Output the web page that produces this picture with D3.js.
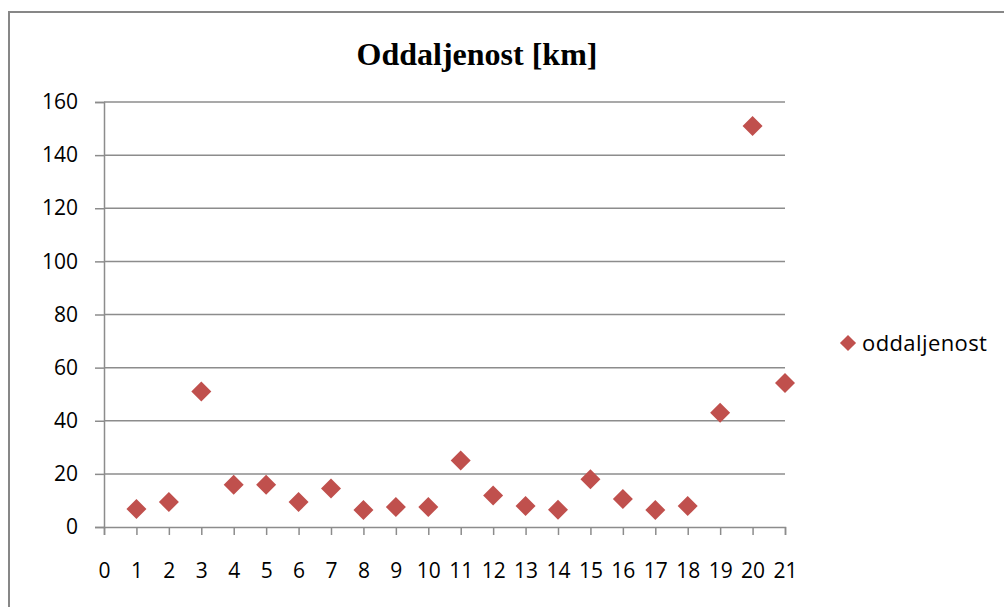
<!DOCTYPE html>
<html>
<head>
<meta charset="utf-8">
<script src="https://cdn.jsdelivr.net/npm/d3@7"></script>
<style>
  html, body { margin: 0; padding: 0; background: #fff; }
  svg { display: block; }
</style>
</head>
<body>
<div id="chart"></div>
<script>
const title = 'Oddaljenost [km]';
const seriesName = 'oddaljenost';
const xValues = [1, 2, 3, 4, 5, 6, 7, 8, 9, 10, 11, 12, 13, 14, 15, 16, 17, 18, 19, 20, 21];
const yValues = [6.8, 9.4, 51, 15.9, 15.9, 9.4, 14.5, 6.4, 7.5, 7.5, 25, 11.9, 7.9, 6.5, 18, 10.5, 6.4, 7.9, 43, 151, 54.2];
const xTicks = d3.range(0, 22);
const yTicks = [0, 20, 40, 60, 80, 100, 120, 140, 160];

const W = 1004, H = 607;
const plot = { left: 104, right: 785, top: 102, bottom: 527 };
const red = '#C0504D';
const gridColor = '#8c8c8c';
const labelFont = '"Open Sans", "Noto Sans", sans-serif';

const svg = d3.select('#chart').append('svg')
    .attr('width', W).attr('height', H);

// outer chart frame (only top and left edges fall inside the picture)
svg.append('line').attr('x1', 8).attr('x2', W).attr('y1', 12).attr('y2', 12)
    .attr('stroke', '#878787').attr('stroke-width', 2);
svg.append('line').attr('x1', 9).attr('x2', 9).attr('y1', 12).attr('y2', H)
    .attr('stroke', '#878787').attr('stroke-width', 2);

const x = d3.scaleLinear().domain([0, 21]).range([plot.left, plot.right]);
const y = d3.scaleLinear().domain([0, 160]).range([plot.bottom, plot.top]);

// horizontal gridlines
svg.append('g')
    .selectAll('line')
    .data(yTicks.filter(d => d > 0))
    .join('line')
    .attr('x1', plot.left).attr('x2', plot.right)
    .attr('y1', d => y(d)).attr('y2', d => y(d))
    .attr('stroke', gridColor).attr('stroke-width', 1.5);

// y axis
const yAxis = svg.append('g')
    .attr('transform', `translate(${plot.left},0)`)
    .call(d3.axisLeft(y).tickValues(yTicks).tickSize(9).tickPadding(17));
yAxis.select('.domain').attr('stroke', gridColor).attr('stroke-width', 1.5);
yAxis.selectAll('.tick line').attr('stroke', gridColor).attr('stroke-width', 1.5);
yAxis.selectAll('.tick text')
    .attr('font-family', labelFont).attr('font-size', '21px').attr('fill', '#000');

// x axis
const xAxis = svg.append('g')
    .attr('transform', `translate(0,${plot.bottom})`)
    .call(d3.axisBottom(x).tickValues(xTicks).tickFormat(d3.format('d')).tickSize(8).tickPadding(28));
xAxis.select('.domain').attr('stroke', gridColor).attr('stroke-width', 1.5);
xAxis.selectAll('.tick line').attr('stroke', gridColor).attr('stroke-width', 1.5);
xAxis.selectAll('.tick text')
    .attr('font-family', labelFont).attr('font-size', '21px').attr('fill', '#000');

// markers
const diamond = d3.symbol().type(d3.symbolSquare).size(200);
svg.append('g')
    .selectAll('path')
    .data(xValues.map((v, i) => ({ x: v, y: yValues[i] })))
    .join('path')
    .attr('d', diamond)
    .attr('transform', d => `translate(${x(d.x)},${y(d.y)}) rotate(45)`)
    .attr('fill', red);

// title
svg.append('text')
    .attr('x', 477).attr('y', 65)
    .attr('text-anchor', 'middle')
    .attr('font-family', '"Liberation Serif", "Times New Roman", serif')
    .attr('font-weight', 'bold').attr('font-size', '32px')
    .text(title);

// legend
svg.append('path')
    .attr('d', d3.symbol().type(d3.symbolSquare).size(130))
    .attr('transform', 'translate(848,343) rotate(45)')
    .attr('fill', red);
svg.append('text')
    .attr('x', 862).attr('y', 351)
    .attr('font-family', labelFont).attr('font-size', '22px')
    .attr('letter-spacing', '0.4px')
    .text(seriesName);
</script>
</body>
</html>
